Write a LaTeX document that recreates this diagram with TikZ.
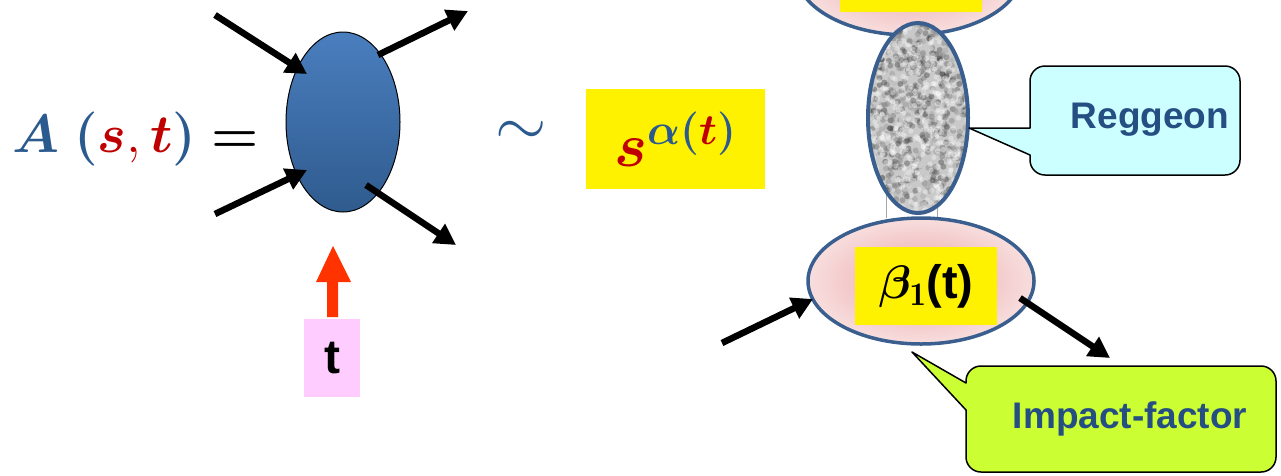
\RequirePackage{fix-cm}
\documentclass[tikz,border=0pt]{standalone}
\usepackage{amsmath,bm}
\usepackage{graphicx}
\usepackage{fontspec}
\setsansfont{Liberation Sans}
\usetikzlibrary{arrows.meta,shapes.geometric}
\definecolor{eqblue}{HTML}{2B5A8F}
\definecolor{eqred}{HTML}{C00000}
\definecolor{blobtop}{HTML}{4A7EBE}
\definecolor{blobbot}{HTML}{2F5B8E}
\definecolor{ellblue}{HTML}{3A5F8F}
\definecolor{pinkin}{HTML}{EBA3A6}
\definecolor{pinkout}{HTML}{F8DEDE}
\definecolor{pinkbox}{HTML}{FFCCFF}
\definecolor{redarrow}{HTML}{FF3300}
\definecolor{cyanbox}{HTML}{CCFFFF}
\definecolor{limebox}{HTML}{CCFF33}
\definecolor{labelblue}{HTML}{254E82}
\begin{document}
\begin{tikzpicture}[x=1pt,y=-1pt,
  arr/.style={line width=6.5pt,-{Triangle[length=21pt,width=22pt]}},
  pinkell/.style={ellipse,draw=ellblue,line width=3.5pt,inner color=pinkin,outer color=pinkout,minimum width=226pt,minimum height=126pt,inner sep=0pt},
  callout/.style={draw=black,line width=1.5pt,line join=round},
  labeltext/.style={font=\fontsize{37}{42}\selectfont\sffamily\bfseries,text=labelblue,inner sep=0pt}]
\useasboundingbox (0,0) rectangle (1281,475);

% ---- left: amplitude ----
\node[anchor=base west,inner sep=0pt,font=\fontsize{54}{60}\selectfont] (amp) at (12,152)
  {$\color{eqblue}\bm{A}\;\bm{(}{\color{eqred}\bm{s},\bm{t}}\bm{)}\;{\color{black}\bm{=}}$};

\node[ellipse,draw=black,line width=1pt,top color=blobtop,bottom color=blobbot,
  minimum width=114pt,minimum height=180pt,inner sep=0pt] (blob) at (343,122) {};

\coordinate (a1s) at (215,15);  \coordinate (a1e) at (307,74);
\coordinate (a2s) at (378,55);  \coordinate (a2e) at (468,11);
\coordinate (a3s) at (215,214); \coordinate (a3e) at (307,170);
\coordinate (a4s) at (366,185); \coordinate (a4e) at (456,245);
\draw[arr] (a1s) -- (a1e);
\draw[arr] (a2s) -- (a2e);
\draw[arr] (a3s) -- (a3e);
\draw[arr] (a4s) -- (a4e);

% red block arrow
\fill[redarrow] (327,317) -- (338,317) -- (338,282) -- (351,282) -- (333,246) -- (316,282) -- (327,282) -- cycle;
\node[fill=pinkbox,minimum width=56pt,minimum height=78pt,inner sep=0pt,
  font=\fontsize{48}{50}\selectfont\sffamily\bfseries] (tbox) at (332,358) {t};

% ---- middle ----
\node[inner sep=0pt,font=\fontsize{66}{66}\selectfont,text=eqblue] (sim) at (521,133) {$\sim$};
\node[fill=yellow,minimum width=179pt,minimum height=100pt,inner sep=0pt,
  font=\fontsize{62}{66}\selectfont] (sbox) at (675.5,139)
  {$\color{eqred}\bm{s}^{\color{eqblue}\bm{\alpha}\bm{(}\color{eqred}\bm{t}\color{eqblue}\bm{)}}$};

% ---- right: reggeon exchange ----
\draw[gray!70,line width=0.8pt] (886,195) -- (886,218);
\draw[gray!70,line width=0.8pt] (937,195) -- (937,218);

\node[pinkell] (ifup) at (909,-28) {};
\node[fill=yellow,minimum width=142pt,minimum height=40pt,inner sep=0pt,anchor=south] (upbox) at (911,12) {};
\node[pinkell] (ifdown) at (921,281) {};
\node[fill=yellow,minimum width=142pt,minimum height=78pt,inner sep=0pt,
  font=\fontsize{47}{50}\selectfont] (bbox) at (926,286)
  {$\bm{\beta}_{\mathbf{1}}$\textsf{\bfseries(t)}};

\begin{scope}
  \clip (918,118) ellipse [x radius=50, y radius=95];
  \fill[gray!42] (866,20) rectangle (970,216);
  \pgfmathsetseed{11}
  \foreach \i in {1,...,700}{
    \pgfmathsetmacro\px{866+104*rnd}
    \pgfmathsetmacro\py{20+196*rnd}
    \pgfmathtruncatemacro\g{30+60*rnd}
    \fill[black!\g,opacity=0.35] (\px,\py) circle (3);
  }
  \foreach \i in {1,...,500}{
    \pgfmathsetmacro\px{866+104*rnd}
    \pgfmathsetmacro\py{20+196*rnd}
    \fill[white,opacity=0.35] (\px,\py) circle (2.6);
  }
\end{scope}
\node[ellipse,draw=ellblue,line width=4pt,minimum width=100pt,minimum height=190pt,inner sep=0pt] (regg) at (918,118) {};

\coordinate (l1s) at (722,343); \coordinate (l1e) at (813,299);
\coordinate (l2s) at (1020,298); \coordinate (l2e) at (1110,358);
\draw[arr] (l1s) -- (l1e);
\draw[arr] (l2s) -- (l2e);

% callouts
\coordinate (rtip) at (969,128);
\fill[cyanbox] (rtip) -- (1030,155) [rounded corners=15pt] -- (1030,175) -- (1240,175) -- (1240,66) -- (1030,66) [sharp corners] -- (1030,128) -- cycle;
\draw[callout] (rtip) -- (1030,155) [rounded corners=15pt] -- (1030,175) -- (1240,175) -- (1240,66) -- (1030,66) [sharp corners] -- (1030,128) -- cycle;
\node[labeltext,anchor=base] (reglab) at (1150,128) {Reggeon};

\coordinate (itip) at (912,352);
\fill[limebox] (itip) -- (966,410) [rounded corners=15pt] -- (966,472) -- (1276,472) -- (1276,366) -- (966,366) [sharp corners] -- (966,383) -- cycle;
\draw[callout] (itip) -- (966,410) [rounded corners=15pt] -- (966,472) -- (1276,472) -- (1276,366) -- (966,366) [sharp corners] -- (966,383) -- cycle;
\node[labeltext,anchor=base] (implab) at (1130,428) {Impact-factor};
\end{tikzpicture}
\end{document}
